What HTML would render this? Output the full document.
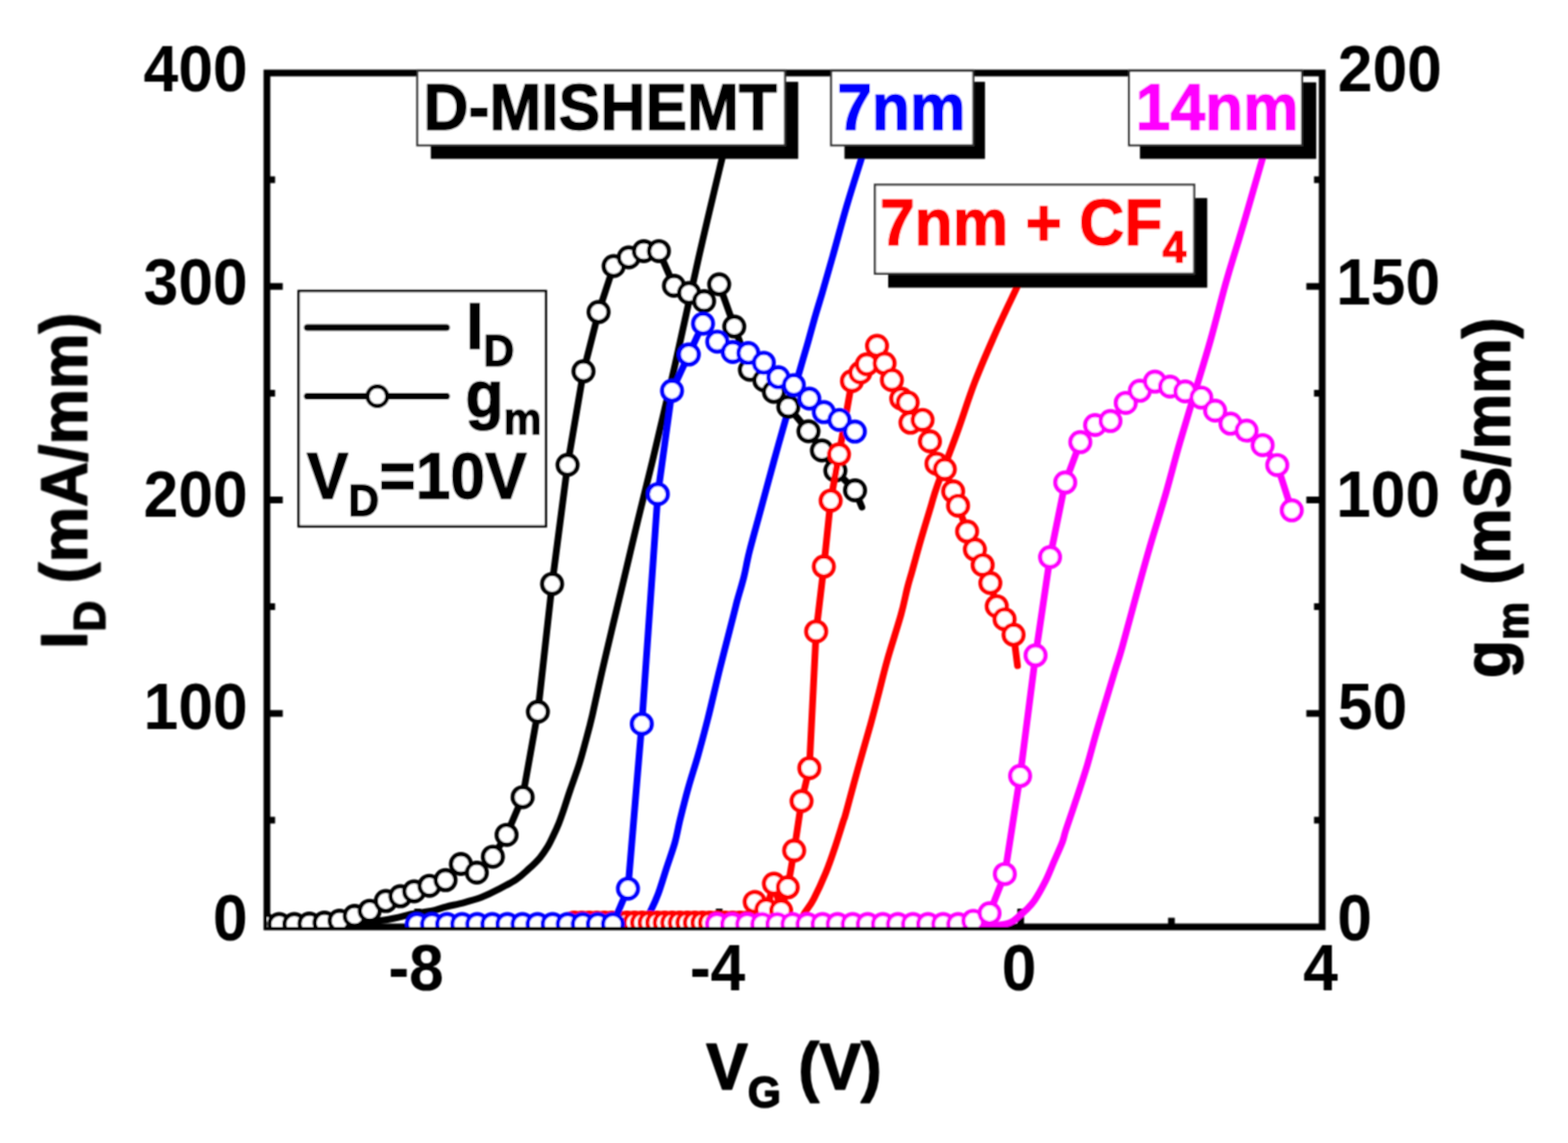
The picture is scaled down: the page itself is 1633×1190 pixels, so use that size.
<!DOCTYPE html><html><head><meta charset='utf-8'><style>html,body{margin:0;padding:0;background:#fff;overflow:hidden}svg{display:block}</style></head><body>
<svg width='1633' height='1190' viewBox='0 0 1633 1190' style="font-family:'Liberation Sans',sans-serif;font-weight:bold">
<rect width='1633' height='1190' fill='#fff'/>
<filter id='bl' x='0' y='0' width='1633' height='1190' filterUnits='userSpaceOnUse'><feConvolveMatrix order='3' kernelMatrix='1 2 1 2 4 2 1 2 1' edgeMode='duplicate'/></filter>
<g filter='url(#bl)'>
<defs><clipPath id='cp'><rect x='278' y='76' width='1099' height='889'/></clipPath></defs>
<rect x='278' y='76' width='1099' height='889' fill='none' stroke='#000' stroke-width='7'/>
<g stroke='#000' stroke-width='7'><line x1='278.0' y1='742.8' x2='294.5' y2='742.8'/><line x1='278.0' y1='520.5' x2='294.5' y2='520.5'/><line x1='278.0' y1='298.2' x2='294.5' y2='298.2'/><line x1='278.0' y1='853.9' x2='286.5' y2='853.9'/><line x1='278.0' y1='631.6' x2='286.5' y2='631.6'/><line x1='278.0' y1='409.4' x2='286.5' y2='409.4'/><line x1='278.0' y1='187.1' x2='286.5' y2='187.1'/><line x1='1377.0' y1='742.8' x2='1360.5' y2='742.8'/><line x1='1377.0' y1='520.5' x2='1360.5' y2='520.5'/><line x1='1377.0' y1='298.2' x2='1360.5' y2='298.2'/><line x1='1377.0' y1='853.9' x2='1368.5' y2='853.9'/><line x1='1377.0' y1='631.6' x2='1368.5' y2='631.6'/><line x1='1377.0' y1='409.4' x2='1368.5' y2='409.4'/><line x1='1377.0' y1='187.1' x2='1368.5' y2='187.1'/><line x1='435.0' y1='965.0' x2='435.0' y2='946.0'/><line x1='749.0' y1='965.0' x2='749.0' y2='946.0'/><line x1='1063.0' y1='965.0' x2='1063.0' y2='946.0'/><line x1='592.0' y1='965.0' x2='592.0' y2='955.5'/><line x1='906.0' y1='965.0' x2='906.0' y2='955.5'/><line x1='1220.0' y1='965.0' x2='1220.0' y2='955.5'/></g>
<g clip-path='url(#cp)' fill='none' stroke-linejoin='round' stroke-linecap='round'>
<path d='M278.0,964.0 C290.0,963.8 329.7,963.5 350.0,962.5 C370.3,961.5 386.7,959.8 400.0,958.0 C413.3,956.2 421.8,953.1 430.0,951.5 C438.2,949.9 443.4,949.6 449.2,948.4 C454.9,947.2 458.9,945.5 464.5,944.1 C470.1,942.7 476.8,941.4 482.9,939.8 C489.0,938.2 495.1,936.6 501.2,934.3 C507.3,931.9 513.5,928.9 519.6,925.7 C525.7,922.5 532.8,918.8 538.0,915.3 C543.2,911.8 546.5,908.4 550.6,904.7 C554.7,901.0 559.1,896.8 562.4,892.9 C565.7,889.0 568.2,885.1 570.6,881.2 C573.0,877.3 574.6,873.3 576.5,869.4 C578.4,865.5 580.0,862.0 581.8,857.6 C583.6,853.2 585.1,848.8 587.1,842.9 C589.1,837.0 591.3,829.9 594.0,822.0 C596.7,814.1 600.5,804.1 603.2,795.5 C605.9,786.9 608.0,778.7 610.3,770.3 C612.6,761.9 614.1,756.7 616.8,745.0 C619.5,733.3 623.3,715.2 626.7,700.3 C630.1,685.4 633.4,671.4 637.2,655.5 C641.0,639.6 644.8,624.1 649.3,605.0 C653.8,585.9 659.5,561.8 664.5,541.0 C669.5,520.2 673.1,506.8 679.5,480.0 C685.9,453.2 695.0,415.4 703.0,380.0 C711.0,344.6 719.6,303.4 727.8,267.6 C735.9,231.8 747.5,183.8 751.9,165.4 C756.3,147.0 753.6,158.4 754.0,157.0' stroke='#000' stroke-width='7'/>
<path d='M600.0,964.0 C610.0,963.9 648.2,964.3 660.0,963.5 C671.8,962.7 668.0,961.7 671.0,959.0 C674.0,956.3 675.7,952.0 678.1,947.3 C680.5,942.5 682.8,937.8 685.5,930.5 C688.2,923.2 691.3,912.6 694.2,903.6 C697.1,894.6 700.7,885.0 703.0,876.7 C705.3,868.4 705.8,863.4 708.1,854.0 C710.4,844.6 713.7,831.5 716.8,820.3 C719.9,809.1 723.5,798.6 726.9,786.7 C730.3,774.8 733.1,764.3 737.0,749.0 C740.9,733.7 745.5,713.0 750.0,695.0 C754.5,677.0 760.8,652.9 763.7,641.3 C766.7,629.7 765.9,632.3 767.7,625.5 C769.6,618.7 772.7,608.7 774.8,600.3 C776.9,591.9 777.5,586.1 780.3,575.0 C783.1,563.9 787.1,549.6 791.4,533.8 C795.7,518.0 801.8,495.2 806.0,480.0 C810.2,464.8 811.6,459.8 816.6,442.3 C821.6,424.8 831.8,389.5 836.0,375.0 C840.2,360.5 839.6,362.9 841.7,355.5 C843.8,348.1 846.3,338.7 848.7,330.3 C851.1,321.9 853.2,315.4 856.3,305.0 C859.3,294.6 862.7,282.8 867.0,267.6 C871.3,252.4 877.0,230.8 882.0,213.8 C887.0,196.8 894.1,174.9 897.0,165.4 C899.9,155.9 899.1,158.4 899.5,157.0' stroke='#00f' stroke-width='7'/>
<path d='M760.0,964.0 C770.8,963.9 812.8,964.5 825.0,963.5 C837.2,962.5 830.7,960.4 833.0,958.0 C835.3,955.6 836.4,952.9 838.8,949.2 C841.2,945.5 844.0,942.5 847.5,935.8 C851.0,929.1 856.1,918.1 859.9,908.9 C863.7,899.6 867.2,889.3 870.2,880.3 C873.2,871.3 876.4,860.7 878.2,855.1 C880.0,849.5 878.4,855.7 880.9,846.7 C883.4,837.7 888.9,816.8 893.2,801.3 C897.5,785.8 903.0,767.5 906.7,754.0 C910.4,740.5 912.6,731.5 915.5,720.3 C918.4,709.1 920.4,700.1 924.2,686.7 C928.0,673.3 934.8,652.5 938.3,640.0 C941.8,627.5 943.0,619.7 945.0,612.0 C947.0,604.3 947.7,602.6 950.1,594.0 C952.5,585.4 956.2,571.5 959.5,560.3 C962.8,549.1 966.8,535.9 969.6,526.7 C972.4,517.5 971.8,517.7 976.3,505.1 C980.8,492.5 990.0,469.2 996.5,451.3 C1003.0,433.4 1008.4,415.5 1015.3,397.6 C1022.2,379.7 1030.9,359.9 1038.1,343.8 C1045.3,327.7 1054.3,309.4 1058.3,300.8 C1062.3,292.2 1061.4,293.5 1062.0,292.0' stroke='#f00' stroke-width='7'/>
<path d='M1000.0,964.0 C1005.8,963.9 1026.3,964.1 1035.0,963.5 C1043.7,962.9 1047.7,962.1 1052.0,960.5 C1056.3,958.9 1058.2,956.2 1061.0,954.0 C1063.8,951.8 1066.0,950.1 1068.7,947.3 C1071.5,944.5 1074.1,942.2 1077.5,937.2 C1080.9,932.2 1085.5,923.8 1088.9,917.1 C1092.3,910.4 1094.8,903.6 1097.7,896.9 C1100.6,890.2 1104.3,882.2 1106.4,876.7 C1108.5,871.2 1107.6,871.7 1110.1,864.0 C1112.6,856.3 1117.8,841.5 1121.5,830.3 C1125.2,819.1 1129.0,807.8 1132.3,796.7 C1135.6,785.7 1138.2,775.1 1141.4,764.0 C1144.6,752.9 1148.1,741.5 1151.5,730.3 C1154.9,719.1 1158.7,706.1 1161.6,696.7 C1164.5,687.3 1165.1,686.6 1168.7,673.8 C1172.3,661.0 1178.5,637.5 1183.3,620.0 C1188.1,602.5 1192.5,586.4 1197.6,568.9 C1202.7,551.4 1208.6,533.0 1213.8,515.1 C1219.0,497.2 1223.4,479.2 1228.6,461.3 C1233.8,443.4 1239.3,425.5 1244.7,407.6 C1250.1,389.7 1255.5,372.7 1260.8,353.8 C1266.1,334.9 1272.4,309.6 1276.8,294.0 C1281.2,278.4 1283.5,271.5 1286.9,260.3 C1290.3,249.1 1292.3,242.7 1297.0,226.7 C1301.7,210.7 1311.6,176.1 1315.0,164.5 C1318.4,152.9 1317.1,158.2 1317.5,157.0' stroke='#f0f' stroke-width='7'/>
<polyline points='275.0,962.0 290.8,962.0 306.5,962.0 322.2,961.5 337.9,960.5 353.6,958.5 369.3,953.5 385.0,948.2 401.8,938.1 417.0,933.1 431.3,928.0 447.2,922.2 464.0,916.3 480.0,899.5 496.6,908.5 513.3,891.9 527.6,869.2 544.3,829.9 560.2,741.0 575.0,607.9 591.1,484.0 607.7,386.6 623.4,324.8 639.1,277.0 654.8,268.0 670.5,261.5 686.2,261.4 701.9,297.5 717.6,305.0 733.3,313.5 749.0,296.0 764.7,340.0 781.0,385.0 796.0,396.0 806.0,408.0 821.0,423.5 842.0,449.0 856.0,469.0 870.0,490.0 890.5,510.5 897.6,528.0' stroke='#000' stroke-width='7'/>
<g stroke='#000' stroke-width='4.4' fill='#fff'><circle cx='275.0' cy='962.0' r='10.3'/><circle cx='290.8' cy='962.0' r='10.3'/><circle cx='306.5' cy='962.0' r='10.3'/><circle cx='322.2' cy='961.5' r='10.3'/><circle cx='337.9' cy='960.5' r='10.3'/><circle cx='353.6' cy='958.5' r='10.3'/><circle cx='369.3' cy='953.5' r='10.3'/><circle cx='385.0' cy='948.2' r='10.3'/><circle cx='401.8' cy='938.1' r='10.3'/><circle cx='417.0' cy='933.1' r='10.3'/><circle cx='431.3' cy='928.0' r='10.3'/><circle cx='447.2' cy='922.2' r='10.3'/><circle cx='464.0' cy='916.3' r='10.3'/><circle cx='480.0' cy='899.5' r='10.3'/><circle cx='496.6' cy='908.5' r='10.3'/><circle cx='513.3' cy='891.9' r='10.3'/><circle cx='527.6' cy='869.2' r='10.3'/><circle cx='544.3' cy='829.9' r='10.3'/><circle cx='560.2' cy='741.0' r='10.3'/><circle cx='575.0' cy='607.9' r='10.3'/><circle cx='591.1' cy='484.0' r='10.3'/><circle cx='607.7' cy='386.6' r='10.3'/><circle cx='623.4' cy='324.8' r='10.3'/><circle cx='639.1' cy='277.0' r='10.3'/><circle cx='654.8' cy='268.0' r='10.3'/><circle cx='670.5' cy='261.5' r='10.3'/><circle cx='686.2' cy='261.4' r='10.3'/><circle cx='701.9' cy='297.5' r='10.3'/><circle cx='717.6' cy='305.0' r='10.3'/><circle cx='733.3' cy='313.5' r='10.3'/><circle cx='749.0' cy='296.0' r='10.3'/><circle cx='764.7' cy='340.0' r='10.3'/><circle cx='781.0' cy='385.0' r='10.3'/><circle cx='796.0' cy='396.0' r='10.3'/><circle cx='806.0' cy='408.0' r='10.3'/><circle cx='821.0' cy='423.5' r='10.3'/><circle cx='842.0' cy='449.0' r='10.3'/><circle cx='856.0' cy='469.0' r='10.3'/><circle cx='870.0' cy='490.0' r='10.3'/><circle cx='890.5' cy='510.5' r='10.3'/></g>
<polyline points='598.0,960.5 605.9,960.5 613.7,960.5 621.5,960.5 629.4,960.5 637.2,960.5 645.1,960.5 653.0,960.5 660.8,960.5 668.6,960.5 676.5,960.5 684.4,960.5 692.2,960.5 700.0,960.5 707.9,960.5 715.8,960.5 723.6,960.5 731.5,960.5 739.3,960.5 747.1,960.5 755.0,960.5 762.9,960.5 770.7,960.5 778.5,960.5 786.0,939.0 798.0,947.0 806.0,920.0 813.5,948.0 820.4,923.8 827.1,885.5 834.8,834.0 842.9,799.7 850.0,657.4 858.0,589.8 865.1,521.2 873.8,473.0 887.3,396.7 896.0,388.0 902.8,379.3 913.4,360.0 921.2,378.3 928.9,395.7 938.6,415.0 945.3,418.9 948.2,440.1 960.8,437.2 968.5,459.5 975.3,482.7 984.0,488.5 992.7,511.6 997.8,526.4 1007.2,553.3 1015.3,572.1 1023.4,588.2 1031.4,607.0 1038.1,631.2 1046.2,644.7 1055.6,660.8 1059.7,693.1' stroke='#f00' stroke-width='7'/>
<g stroke='#f00' stroke-width='4.4' fill='#fff'><circle cx='598.0' cy='960.5' r='10.3'/><circle cx='605.9' cy='960.5' r='10.3'/><circle cx='613.7' cy='960.5' r='10.3'/><circle cx='621.5' cy='960.5' r='10.3'/><circle cx='629.4' cy='960.5' r='10.3'/><circle cx='637.2' cy='960.5' r='10.3'/><circle cx='645.1' cy='960.5' r='10.3'/><circle cx='653.0' cy='960.5' r='10.3'/><circle cx='660.8' cy='960.5' r='10.3'/><circle cx='668.6' cy='960.5' r='10.3'/><circle cx='676.5' cy='960.5' r='10.3'/><circle cx='684.4' cy='960.5' r='10.3'/><circle cx='692.2' cy='960.5' r='10.3'/><circle cx='700.0' cy='960.5' r='10.3'/><circle cx='707.9' cy='960.5' r='10.3'/><circle cx='715.8' cy='960.5' r='10.3'/><circle cx='723.6' cy='960.5' r='10.3'/><circle cx='731.5' cy='960.5' r='10.3'/><circle cx='739.3' cy='960.5' r='10.3'/><circle cx='747.1' cy='960.5' r='10.3'/><circle cx='755.0' cy='960.5' r='10.3'/><circle cx='762.9' cy='960.5' r='10.3'/><circle cx='770.7' cy='960.5' r='10.3'/><circle cx='778.5' cy='960.5' r='10.3'/><circle cx='786.0' cy='939.0' r='10.3'/><circle cx='798.0' cy='947.0' r='10.3'/><circle cx='806.0' cy='920.0' r='10.3'/><circle cx='813.5' cy='948.0' r='10.3'/><circle cx='820.4' cy='923.8' r='10.3'/><circle cx='827.1' cy='885.5' r='10.3'/><circle cx='834.8' cy='834.0' r='10.3'/><circle cx='842.9' cy='799.7' r='10.3'/><circle cx='850.0' cy='657.4' r='10.3'/><circle cx='858.0' cy='589.8' r='10.3'/><circle cx='865.1' cy='521.2' r='10.3'/><circle cx='873.8' cy='473.0' r='10.3'/><circle cx='887.3' cy='396.7' r='10.3'/><circle cx='896.0' cy='388.0' r='10.3'/><circle cx='902.8' cy='379.3' r='10.3'/><circle cx='913.4' cy='360.0' r='10.3'/><circle cx='921.2' cy='378.3' r='10.3'/><circle cx='928.9' cy='395.7' r='10.3'/><circle cx='938.6' cy='415.0' r='10.3'/><circle cx='945.3' cy='418.9' r='10.3'/><circle cx='948.2' cy='440.1' r='10.3'/><circle cx='960.8' cy='437.2' r='10.3'/><circle cx='968.5' cy='459.5' r='10.3'/><circle cx='975.3' cy='482.7' r='10.3'/><circle cx='984.0' cy='488.5' r='10.3'/><circle cx='992.7' cy='511.6' r='10.3'/><circle cx='997.8' cy='526.4' r='10.3'/><circle cx='1007.2' cy='553.3' r='10.3'/><circle cx='1015.3' cy='572.1' r='10.3'/><circle cx='1023.4' cy='588.2' r='10.3'/><circle cx='1031.4' cy='607.0' r='10.3'/><circle cx='1038.1' cy='631.2' r='10.3'/><circle cx='1046.2' cy='644.7' r='10.3'/><circle cx='1055.6' cy='660.8' r='10.3'/></g>
<polyline points='434.2,962.0 449.9,962.0 465.6,962.0 481.3,962.0 497.0,962.0 512.7,962.0 528.4,962.0 544.1,962.0 559.8,962.0 575.5,962.0 591.2,962.0 606.9,962.0 622.6,962.0 638.3,962.0 654.0,925.2 668.4,753.7 685.1,514.4 699.9,406.8 717.4,369.1 732.2,336.9 747.0,355.7 763.1,366.5 779.3,367.6 795.5,377.7 810.6,392.8 826.8,400.9 842.9,415.0 858.0,429.1 874.2,437.2 890.3,449.3' stroke='#00f' stroke-width='7'/>
<g stroke='#00f' stroke-width='4.4' fill='#fff'><circle cx='434.2' cy='962.0' r='10.3'/><circle cx='449.9' cy='962.0' r='10.3'/><circle cx='465.6' cy='962.0' r='10.3'/><circle cx='481.3' cy='962.0' r='10.3'/><circle cx='497.0' cy='962.0' r='10.3'/><circle cx='512.7' cy='962.0' r='10.3'/><circle cx='528.4' cy='962.0' r='10.3'/><circle cx='544.1' cy='962.0' r='10.3'/><circle cx='559.8' cy='962.0' r='10.3'/><circle cx='575.5' cy='962.0' r='10.3'/><circle cx='591.2' cy='962.0' r='10.3'/><circle cx='606.9' cy='962.0' r='10.3'/><circle cx='622.6' cy='962.0' r='10.3'/><circle cx='638.3' cy='962.0' r='10.3'/><circle cx='654.0' cy='925.2' r='10.3'/><circle cx='668.4' cy='753.7' r='10.3'/><circle cx='685.1' cy='514.4' r='10.3'/><circle cx='699.9' cy='406.8' r='10.3'/><circle cx='717.4' cy='369.1' r='10.3'/><circle cx='732.2' cy='336.9' r='10.3'/><circle cx='747.0' cy='355.7' r='10.3'/><circle cx='763.1' cy='366.5' r='10.3'/><circle cx='779.3' cy='367.6' r='10.3'/><circle cx='795.5' cy='377.7' r='10.3'/><circle cx='810.6' cy='392.8' r='10.3'/><circle cx='826.8' cy='400.9' r='10.3'/><circle cx='842.9' cy='415.0' r='10.3'/><circle cx='858.0' cy='429.1' r='10.3'/><circle cx='874.2' cy='437.2' r='10.3'/><circle cx='890.3' cy='449.3' r='10.3'/></g>
<polyline points='746.7,962.0 762.4,962.0 778.1,962.0 793.8,962.0 809.5,962.0 825.2,962.0 840.9,962.0 856.6,962.0 872.3,962.0 888.0,962.0 903.7,962.0 919.4,962.0 935.1,962.0 950.8,962.0 966.5,962.0 982.2,962.0 997.9,962.0 1013.6,958.7 1030.6,950.8 1046.5,909.9 1062.4,807.8 1078.5,682.3 1093.6,580.0 1109.4,502.3 1125.1,460.3 1140.5,442.5 1156.5,438.3 1172.4,419.4 1187.1,406.8 1202.8,397.3 1218.5,402.5 1234.3,407.5 1251.1,413.9 1265.5,427.5 1281.5,441.1 1298.2,448.3 1315.0,463.4 1330.2,484.2 1345.3,531.3' stroke='#f0f' stroke-width='7'/>
<g stroke='#f0f' stroke-width='4.4' fill='#fff'><circle cx='746.7' cy='962.0' r='10.3'/><circle cx='762.4' cy='962.0' r='10.3'/><circle cx='778.1' cy='962.0' r='10.3'/><circle cx='793.8' cy='962.0' r='10.3'/><circle cx='809.5' cy='962.0' r='10.3'/><circle cx='825.2' cy='962.0' r='10.3'/><circle cx='840.9' cy='962.0' r='10.3'/><circle cx='856.6' cy='962.0' r='10.3'/><circle cx='872.3' cy='962.0' r='10.3'/><circle cx='888.0' cy='962.0' r='10.3'/><circle cx='903.7' cy='962.0' r='10.3'/><circle cx='919.4' cy='962.0' r='10.3'/><circle cx='935.1' cy='962.0' r='10.3'/><circle cx='950.8' cy='962.0' r='10.3'/><circle cx='966.5' cy='962.0' r='10.3'/><circle cx='982.2' cy='962.0' r='10.3'/><circle cx='997.9' cy='962.0' r='10.3'/><circle cx='1013.6' cy='958.7' r='10.3'/><circle cx='1030.6' cy='950.8' r='10.3'/><circle cx='1046.5' cy='909.9' r='10.3'/><circle cx='1062.4' cy='807.8' r='10.3'/><circle cx='1078.5' cy='682.3' r='10.3'/><circle cx='1093.6' cy='580.0' r='10.3'/><circle cx='1109.4' cy='502.3' r='10.3'/><circle cx='1125.1' cy='460.3' r='10.3'/><circle cx='1140.5' cy='442.5' r='10.3'/><circle cx='1156.5' cy='438.3' r='10.3'/><circle cx='1172.4' cy='419.4' r='10.3'/><circle cx='1187.1' cy='406.8' r='10.3'/><circle cx='1202.8' cy='397.3' r='10.3'/><circle cx='1218.5' cy='402.5' r='10.3'/><circle cx='1234.3' cy='407.5' r='10.3'/><circle cx='1251.1' cy='413.9' r='10.3'/><circle cx='1265.5' cy='427.5' r='10.3'/><circle cx='1281.5' cy='441.1' r='10.3'/><circle cx='1298.2' cy='448.3' r='10.3'/><circle cx='1315.0' cy='463.4' r='10.3'/><circle cx='1330.2' cy='484.2' r='10.3'/><circle cx='1345.3' cy='531.3' r='10.3'/></g>
</g>
<text transform='translate(258.00 979.20) scale(1 1.055)' text-anchor='end' font-size='65' fill='#000' >0</text>
<text transform='translate(258.00 758.70) scale(1 1.055)' text-anchor='end' font-size='65' fill='#000' >100</text>
<text transform='translate(258.00 538.30) scale(1 1.055)' text-anchor='end' font-size='65' fill='#000' >200</text>
<text transform='translate(258.00 316.60) scale(1 1.055)' text-anchor='end' font-size='65' fill='#000' >300</text>
<text transform='translate(258.00 95.00) scale(1 1.055)' text-anchor='end' font-size='65' fill='#000' >400</text>
<text transform='translate(1392.70 979.20) scale(1 1.055)' text-anchor='start' font-size='65' fill='#000' >0</text>
<text transform='translate(1393.30 758.70) scale(1 1.055)' text-anchor='start' font-size='65' fill='#000' >50</text>
<text transform='translate(1391.40 538.30) scale(1 1.055)' text-anchor='start' font-size='65' fill='#000' >100</text>
<text transform='translate(1391.40 316.60) scale(1 1.055)' text-anchor='start' font-size='65' fill='#000' >150</text>
<text transform='translate(1393.30 95.00) scale(1 1.055)' text-anchor='start' font-size='65' fill='#000' >200</text>
<text transform='translate(433.30 1031.30) scale(1 1.055)' text-anchor='middle' font-size='65' fill='#000' >-8</text>
<text transform='translate(747.30 1031.30) scale(1 1.055)' text-anchor='middle' font-size='65' fill='#000' >-4</text>
<text transform='translate(1061.30 1031.30) scale(1 1.055)' text-anchor='middle' font-size='65' fill='#000' >0</text>
<text transform='translate(1375.30 1031.30) scale(1 1.055)' text-anchor='middle' font-size='65' fill='#000' >4</text>
<text stroke='#000' stroke-width='1.4' stroke-linejoin='round' transform='translate(735.5 1134.5) scale(1 1.055)' font-size='65'>V<tspan font-size='44.5' dy='17.5'>G</tspan><tspan dy='-17.5'> (V)</tspan></text>
<text stroke='#000' stroke-width='1.4' stroke-linejoin='round' transform='translate(90.6 675.5) rotate(-90) scale(1 1.055)' font-size='65'>I<tspan font-size='44.5' dy='17.5'>D</tspan><tspan dy='-17.5'> (mA/mm)</tspan></text>
<text stroke='#000' stroke-width='1.4' stroke-linejoin='round' transform='translate(1572.5 706) rotate(-90) scale(1 1.055)' font-size='65'>g<tspan font-size='44.5' dy='17.5'>m</tspan><tspan dy='-17.5'> (mS/mm)</tspan></text>
<rect x='311' y='303' width='257.5' height='245' fill='#fff' stroke='#000' stroke-width='2.5'/>
<line x1='320' y1='341' x2='465' y2='341' stroke='#000' stroke-width='7' stroke-linecap='round'/>
<line x1='320' y1='412.5' x2='465' y2='412.5' stroke='#000' stroke-width='7' stroke-linecap='round'/>
<circle cx='393' cy='412.5' r='10.3' fill='#fff' stroke='#000' stroke-width='4.4'/>
<text stroke='#000' stroke-width='1.4' stroke-linejoin='round' transform='translate(485.5 362.6) scale(1 1.055)' font-size='65'>I<tspan font-size='44.5' dy='17.5'>D</tspan></text>
<text stroke='#000' stroke-width='1.4' stroke-linejoin='round' transform='translate(484.8 433.5) scale(1 1.055)' font-size='65'>g<tspan font-size='44.5' dy='17.5'>m</tspan></text>
<text stroke='#000' stroke-width='1.4' stroke-linejoin='round' transform='translate(319.5 519) scale(1 1.055)' font-size='65'>V<tspan font-size='44.5' dy='17.5'>D</tspan><tspan dy='-17.5'>=10V</tspan></text>
<rect x='448.7' y='85.2' width='382.59999999999997' height='80.2' fill='#000'/>
<rect x='434.6' y='73.8' width='383.0' height='77.50000000000001' fill='#fff' stroke='#333' stroke-width='2.2'/>
<text transform='translate(441.10 135.00) scale(1 1.055)' text-anchor='start' font-size='65' fill='#000' stroke='#000' stroke-width='1.4' stroke-linejoin='round'>D-MISHEMT</text>
<rect x='879.5' y='85.2' width='146.29999999999995' height='80.2' fill='#000'/>
<rect x='865.6' y='73.8' width='148.10000000000002' height='77.50000000000001' fill='#fff' stroke='#333' stroke-width='2.2'/>
<text transform='translate(871.90 134.80) scale(1 1.055)' text-anchor='start' font-size='65' fill='#00f' stroke='#00f' stroke-width='1.4' stroke-linejoin='round'>7nm</text>
<rect x='1187.2' y='85.7' width='183.5999999999999' height='79.7' fill='#000'/>
<rect x='1175.9' y='73.8' width='180.0999999999999' height='77.50000000000001' fill='#fff' stroke='#333' stroke-width='2.2'/>
<text transform='translate(1182.80 135.30) scale(1 1.055)' text-anchor='start' font-size='65' fill='#f0f' stroke='#f0f' stroke-width='1.4' stroke-linejoin='round'>14nm</text>
<rect x='925' y='206.2' width='332.29999999999995' height='93.30000000000001' fill='#000'/>
<rect x='911.2' y='192.3' width='332.5' height='92.59999999999997' fill='#fff' stroke='#333' stroke-width='2.2'/>
<text stroke='#f00' stroke-width='1.4' stroke-linejoin='round' transform='translate(916.4 254.9) scale(1 1.055)' font-size='65' fill='#f00'>7nm + CF<tspan font-size='44.5' dy='17.5'>4</tspan></text>
</g>
</svg></body></html>
